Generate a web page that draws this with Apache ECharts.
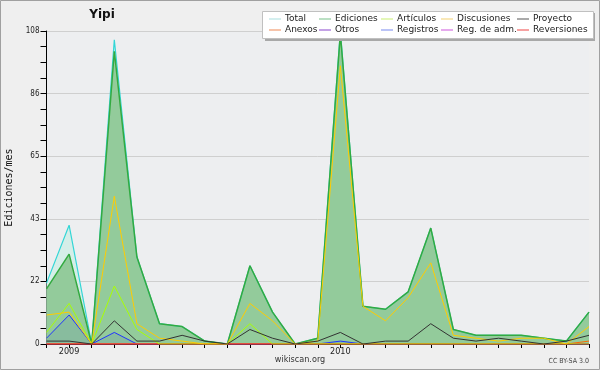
<!DOCTYPE html>
<html><head><meta charset="utf-8">
<script src="https://cdn.jsdelivr.net/npm/echarts@6/dist/echarts.min.js"></script>
<style>html,body{margin:0;padding:0;background:#efefef}#c{width:600px;height:370px}</style>
</head><body><div id="c"></div>
<script>
const months = ['2008-12','2009-01','2009-02','2009-03','2009-04','2009-05','2009-06','2009-07','2009-08','2009-09','2009-10','2009-11','2009-12',
  '2010-01','2010-02','2010-03','2010-04','2010-05','2010-06','2010-07','2010-08','2010-09','2010-10','2010-11','2010-12'];
const yTicks = [0, 21.6, 43.2, 64.8, 86.4, 108];
const total       = [21,41,0,105,30,7,6,1,0,27,11,0,2,108,13,12,18,40,5,3,3,3,2,1,11];
const ediciones   = [19,31,0,101,30,7,6,1,0,27,11,0,2,107,13,12,18,40,5,3,3,3,2,1,11];
const articulos   = [4,14,0,20,5,0,0,0,0,7,0,0,0,0,0,0,0,0,0,0,0,0,0,0,0];
const discusiones = [10,11,0,51,7,2,1,0,0,14,8,0,1,96,13,8,16,28,3,2,1,2,2,0,6];
const proyecto    = [1,1,0,8,1,1,3,1,0,5,2,0,1,4,0,1,1,7,2,1,2,1,0,1,3];
const anexos      = [0,0,0,0,0,0,0,0,0,0,0,0,0,0,0,0,0,0,0,0,0,0,0,0,1];
const otros       = [0,0,0,0,0,0,0,0,0,0,0,0,0,0,0,0,0,0,0,0,0,0,0,0,0];
const registros   = [2,10,0,4,0,0,0,0,0,0,0,0,0,1,0,0,0,0,0,0,0,0,0,0,0];
const regAdm      = [0,0,0,0,0,0,0,0,0,0,0,0,0,0,0,0,0,0,0,0,0,0,0,0,0];
const reversiones = [0,0,0,0,0,0,0,0,0,0,0,0,0,0,0,0,0,0,0,0,0,0,0,0,0];

const chart = echarts.init(document.getElementById('c'), null, {renderer:'canvas'});
function line(name, data, color, width, extra){
  return Object.assign({name, type:'line', data, symbol:'none', animation:false,
    lineStyle:{color, width}, itemStyle:{color}}, extra||{});
}
const legendCols = [
  {left:269, names:['Total','Anexos']},
  {left:319, names:['Ediciones','Otros']},
  {left:381, names:['Artículos','Registros']},
  {left:441, names:['Discusiones','Reg. de adm.']},
  {left:517, names:['Proyecto','Reversiones']}
];
const legendColors = {'Total':'#a8dede','Anexos':'#ee8855','Ediciones':'#77c088','Otros':'#8844cc',
  'Artículos':'#c8ee70','Registros':'#7788ee','Discusiones':'#f2d070','Reg. de adm.':'#cc55dd',
  'Proyecto':'#555555','Reversiones':'#ee4444'};
const legends = legendCols.map(c => ({
  orient:'vertical', left:c.left, top:13.5, padding:0, itemGap:0, itemWidth:12, itemHeight:1,
  icon:'rect', selectedMode:false, z:10,
  textStyle:{fontFamily:'DejaVu Sans', fontSize:9, color:'#222', lineHeight:11, padding:[0,0,0,-1]},
  data:c.names.map(n => ({name:n, itemStyle:{color:legendColors[n]}, lineStyle:{color:legendColors[n]}}))
}));
chart.setOption({
  backgroundColor:'#efefef',
  animation:false,
  title:{text:'Yipi', left:97, top:4, textAlign:'center',
    textStyle:{fontFamily:'DejaVu Sans', fontSize:12, fontWeight:'bold', color:'#111'}},
  legend: legends,
  graphic:[
    {type:'rect', shape:{x:0.5,y:0.5,width:599,height:369}, style:{fill:'none', stroke:'#a0a0a0', lineWidth:1}, z:1},
    {type:'rect', shape:{x:265,y:13,width:330,height:28}, style:{fill:'#a8a8a8'}, z:8},
    {type:'rect', shape:{x:262.5,y:11.5,width:331,height:27}, style:{fill:'#ffffff', stroke:'#c0c0c0', lineWidth:1}, z:9},
    {type:'text', left:'center', top:355, style:{text:'wikiscan.org', fontFamily:'DejaVu Sans Condensed', fontSize:9, fill:'#333'}},
    {type:'text', right:11, top:358, style:{text:'CC BY-SA 3.0', fontFamily:'DejaVu Sans Condensed', fontSize:7, fill:'#444'}}
  ],
  grid:{left:46.5, right:11, top:31, bottom:26, outerBoundsMode:'none', containLabel:false,
    show:true, backgroundColor:'#edeef0', borderWidth:0},
  xAxis:{type:'category', data:months, boundaryGap:false,
    axisLine:{lineStyle:{color:'#000', width:1}},
    axisTick:{show:true, interval:0, length:4, lineStyle:{color:'#000'}},
    axisLabel:{interval:0, margin:3, fontFamily:'DejaVu Sans Condensed', fontSize:9, color:'#222',
      formatter:v => v.endsWith('-01') ? v.slice(0,4) : ''},
    splitLine:{show:false}},
  yAxis:{type:'value', min:0, max:108, interval:21.6,
    name:'Ediciones/mes', nameLocation:'middle', nameGap:32, nameRotate:90,
    nameTextStyle:{fontFamily:'DejaVu Sans Mono', fontSize:10, color:'#111'},
    axisLine:{show:true, lineStyle:{color:'#000'}},
    axisTick:{show:true, length:6, lineStyle:{color:'#000'}},
    minorTick:{show:true, splitNumber:4, length:6, lineStyle:{color:'#000'}},
    axisLabel:{margin:7, fontFamily:'DejaVu Sans Condensed', fontSize:8, color:'#222',
      formatter:v => String(Math.round(v))},
    splitLine:{show:true, lineStyle:{color:'#cfcfcf', width:1}}},
  series:[
    line('Total', total, '#33d6d6', 1.2, {areaStyle:{color:'#d5eee8', opacity:1}, z:2}),
    line('Ediciones', ediciones, '#33aa40', 1.5, {areaStyle:{color:'#93cb9b', opacity:1}, z:2}),
    line('Registros', registros, '#2233ff', 1, {areaStyle:{color:'rgba(20,40,200,0.12)'}, z:3}),
    line('Otros', otros, '#7733cc', 1, {z:3}),
    line('Reg. de adm.', regAdm, '#cc44cc', 1, {z:3}),
    line('Reversiones', reversiones, '#ee2222', 1, {z:3}),
    line('Anexos', anexos, '#ff6600', 1, {z:3}),
    line('Artículos', articulos, '#aaff00', 1, {z:3}),
    line('Discusiones', discusiones, '#ffcc00', 1, {z:3}),
    line('Proyecto', proyecto, '#333333', 1, {z:3})
  ]
});
</script></body></html>
